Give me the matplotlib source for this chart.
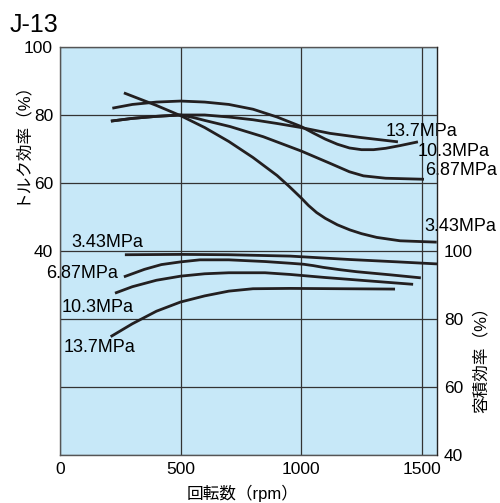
import matplotlib.pyplot as plt
from matplotlib.ticker import FixedLocator, FixedFormatter

plt.rcParams['font.family'] = ['Liberation Sans', 'Noto Sans CJK JP', 'DejaVu Sans']

# torque efficiency (left axis, %)
rpm_t343 = [265, 400, 500, 600, 700, 800, 900, 950, 1000, 1030, 1064, 1100, 1150, 1202, 1250, 1313, 1410, 1562]
tq_343 = [86.5, 82.8, 79.8, 76.3, 72.2, 67.5, 62.2, 59.0, 55.6, 53.4, 51.3, 49.6, 47.7, 46.2, 45.1, 44.0, 43.0, 42.6]
rpm_t687 = [211, 300, 400, 500, 550, 600, 705, 843, 1000, 1119, 1200, 1258, 1350, 1509]
tq_687 = [78.2, 79.0, 79.6, 80.0, 79.3, 78.4, 76.6, 73.6, 69.4, 65.8, 63.3, 62.1, 61.4, 61.1]
rpm_t103 = [217, 300, 400, 500, 600, 700, 800, 900, 1000, 1050, 1100, 1150, 1200, 1250, 1300, 1350, 1410, 1484]
tq_103 = [82.0, 83.1, 83.8, 84.1, 83.8, 83.1, 81.7, 79.4, 76.6, 74.7, 72.9, 71.4, 70.3, 69.8, 69.8, 70.2, 71.0, 72.1]
rpm_t137 = [211, 300, 400, 500, 600, 700, 800, 900, 1000, 1119, 1244, 1401]
tq_137 = [78.2, 79.0, 79.6, 80.0, 80.0, 79.4, 78.6, 77.5, 76.3, 74.6, 73.4, 72.1]

# volumetric efficiency (right axis, %)
rpm_v343 = [269, 500, 700, 954, 1200, 1400, 1563]
vol_343 = [98.9, 99.0, 98.9, 98.5, 97.5, 96.8, 96.2]
rpm_v687 = [265, 350, 420, 500, 580, 700, 850, 954, 1010, 1050, 1090, 1160, 1231, 1368, 1496]
vol_687 = [92.4, 94.6, 96.0, 96.8, 97.4, 97.4, 96.9, 96.4, 96.1, 95.7, 95.2, 94.5, 93.9, 93.0, 92.1]
rpm_v103 = [228, 300, 400, 500, 600, 700, 850, 954, 1100, 1300, 1464]
vol_103 = [87.6, 89.5, 91.4, 92.6, 93.3, 93.6, 93.6, 93.1, 92.2, 91.1, 90.2]
rpm_v137 = [210, 300, 400, 500, 600, 700, 800, 954, 1389]
vol_137 = [74.8, 78.6, 82.3, 85.0, 86.8, 88.2, 88.9, 89.0, 88.8]

fig = plt.figure(figsize=(5.0, 5.03), dpi=100)
ax = fig.add_axes([0.12, 0.0954, 0.754, 0.8112])
ax.set_facecolor('#c7e8f8')

line_kw = dict(color='#231f20', lw=2.0, solid_capstyle='butt', solid_joinstyle='round')
ax.plot(rpm_t343, tq_343, **line_kw)
ax.plot(rpm_t687, tq_687, **line_kw)
ax.plot(rpm_t103, tq_103, **line_kw)
ax.plot(rpm_t137, tq_137, **line_kw)

ax.set_xlim(0, 1563)
ax.set_ylim(-20, 100)
ax.xaxis.set_major_locator(FixedLocator([0, 500, 1000, 1500]))
ax.yaxis.set_major_locator(FixedLocator([-20, 0, 20, 40, 60, 80, 100]))
ax.yaxis.set_major_formatter(FixedFormatter(['', '', '', '40', '60', '80', '100']))
ax.tick_params(length=0, labelsize=12.5, pad=5)
ax.grid(True, color='#333333', lw=0.9)
ax.set_axisbelow(True)
for s in ax.spines.values():
    s.set_color('#555555')
    s.set_linewidth(1.0)

ax2 = ax.twinx()
ax2.set_ylim(40, 160)
ax2.plot(rpm_v343, vol_343, **line_kw)
ax2.plot(rpm_v687, vol_687, **line_kw)
ax2.plot(rpm_v103, vol_103, **line_kw)
ax2.plot(rpm_v137, vol_137, **line_kw)
ax2.yaxis.set_major_locator(FixedLocator([40, 60, 80, 100]))
ax2.tick_params(length=0, labelsize=12.5, pad=5)
for s in ax2.spines.values():
    s.set_visible(False)
ax2.spines['right'].set_visible(True)
ax2.spines['right'].set_color('#222222')

lab_kw = dict(fontsize=13, va='center', ha='left', clip_on=False, zorder=10)
ax.text(1350, 75.1, '13.7MPa', **lab_kw)
ax.text(1484, 69.4, '10.3MPa', **lab_kw)
ax.text(1513, 63.8, '6.87MPa', **lab_kw)
ax.text(1509, 47.1, '3.43MPa', **lab_kw)
ax.text(48, 42.4, '3.43MPa', **lab_kw)
ax.text(-58, 33.5, '6.87MPa', **lab_kw)
ax.text(8, 23.5, '10.3MPa', **lab_kw)
ax.text(16, 11.5, '13.7MPa', **lab_kw)

fig.text(0.02, 1 - 25 / 503, 'J-13', fontsize=18, va='center', ha='left')
fig.text(243 / 500, 1 - 493 / 503, '回転数（rpm）', fontsize=12, ha='center', va='center')
fig.text(20 / 500, 1 - 138 / 503, 'トルク効率（%）', fontsize=12, rotation=90, ha='center', va='center')
fig.text(481 / 500, 1 - 356 / 503, '容積効率（%）', fontsize=12, rotation=90, ha='center', va='center')

fig.savefig('out.png', dpi=100)
